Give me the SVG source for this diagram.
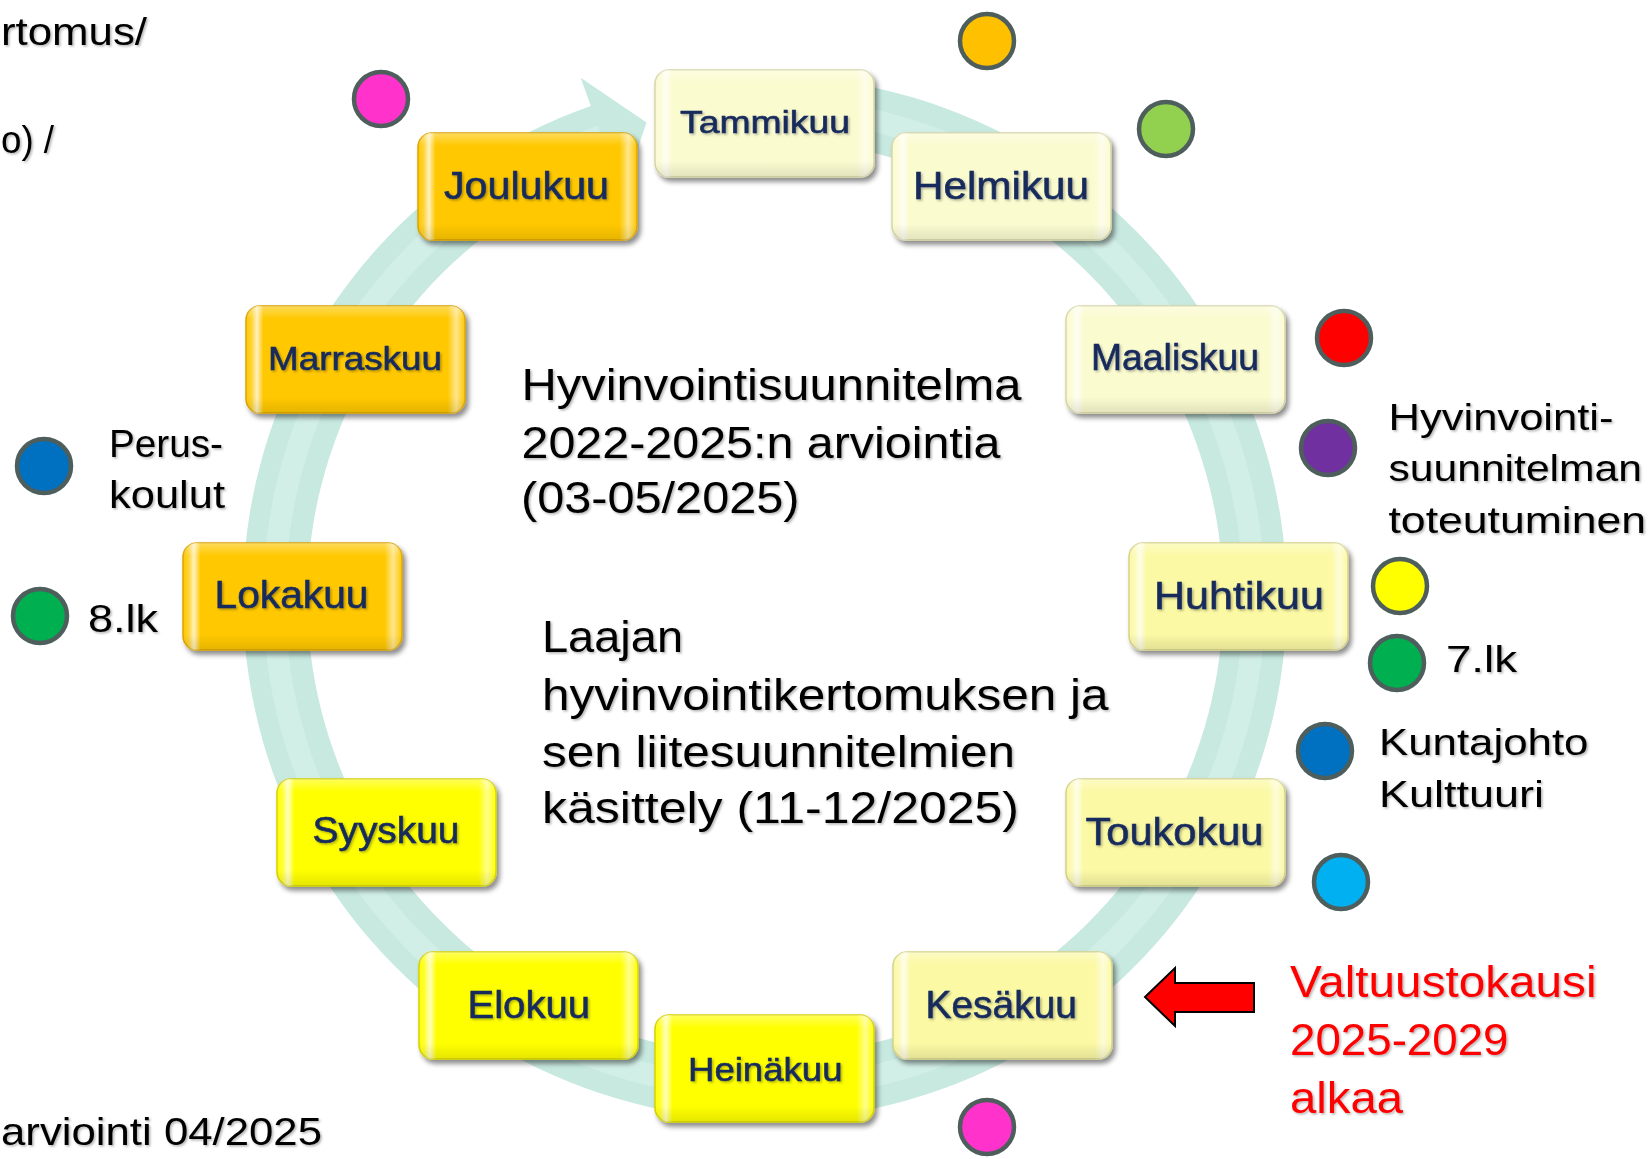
<svg xmlns="http://www.w3.org/2000/svg" width="1652" height="1159" viewBox="0 0 1652 1159">
<defs>
  <filter id="boxShadow" x="-10%" y="-10%" width="130%" height="140%">
    <feDropShadow dx="3" dy="4" stdDeviation="2.5" flood-color="#000" flood-opacity="0.45"/>
  </filter>
  <filter id="txtShadow" x="-5%" y="-25%" width="110%" height="160%">
    <feDropShadow dx="1.5" dy="1.5" stdDeviation="1" flood-color="#000" flood-opacity="0.3"/>
  </filter>
  <linearGradient id="bevelH" x1="0" y1="0" x2="1" y2="0">
    <stop offset="0" stop-color="#fff" stop-opacity="0"/>
    <stop offset="0.025" stop-color="#fff" stop-opacity="0.2"/>
    <stop offset="0.05" stop-color="#fff" stop-opacity="0.75"/>
    <stop offset="0.08" stop-color="#fff" stop-opacity="0"/>
    <stop offset="0.92" stop-color="#fff" stop-opacity="0"/>
    <stop offset="0.96" stop-color="#fff" stop-opacity="0.55"/>
    <stop offset="1" stop-color="#fff" stop-opacity="0"/>
  </linearGradient>
  <linearGradient id="bevelV" x1="0" y1="0" x2="0" y2="1">
    <stop offset="0" stop-color="#fff" stop-opacity="0.35"/>
    <stop offset="0.12" stop-color="#fff" stop-opacity="0"/>
    <stop offset="0.85" stop-color="#000" stop-opacity="0"/>
    <stop offset="1" stop-color="#000" stop-opacity="0.1"/>
  </linearGradient>
  <style>
    .lbl { font-family: "Liberation Sans", Arial, sans-serif; fill: #172b5c; stroke: #172b5c; stroke-width: 0.6; filter: url(#txtShadow); }
    .txt { font-family: "Liberation Sans", Arial, sans-serif; fill: #000; filter: url(#txtShadow); }
    .red { font-family: "Liberation Sans", Arial, sans-serif; fill: #ff0000; filter: url(#txtShadow); }
    .dot { stroke: #4d5e5d; stroke-width: 4.5; }
    .pale { fill: #fbfbd0; stroke: #d8d6a6; stroke-width: 1.5; }
    .lemon { fill: #fbf9a4; stroke: #d6d28a; stroke-width: 1.5; }
    .yel { fill: #ffff00; stroke: #d6d200; stroke-width: 1.5; }
    .gold { fill: #ffc800; stroke: #dca400; stroke-width: 1.5; }
  </style>
</defs>
<rect width="1652" height="1159" fill="#fff"/>

<g id="connectors">
  <path id="cycle-arrow" d="M 719.5 78 A 522 522 0 1 1 590.8 105.9 L 580.7 77.7 L 646.5 122.6 L 622.1 194.6 L 612.1 166.3 A 458 458 0 1 0 725.1 141.7 Z" fill="#c7e9df"/>
  <path d="M 722.3 110 A 490 490 0 1 1 601.5 136" fill="none" stroke="#d2efe7" stroke-width="22"/>
  <polygon id="red-arrow" points="1145,997 1175,968 1175,983 1254,983 1254,1012 1175,1012 1175,1026" fill="#ff0000" stroke="#000" stroke-width="2"/>
</g>

<g id="tammikuu">
  <rect class="pale" x="655" y="70" width="219" height="107" rx="14" filter="url(#boxShadow)"/>
  <rect x="655" y="70" width="219" height="107" rx="14" fill="url(#bevelH)"/>
  <rect x="655" y="70" width="219" height="107" rx="14" fill="url(#bevelV)"/>
  <text class="lbl" x="680" y="133" font-size="32" textLength="170" lengthAdjust="spacingAndGlyphs">Tammikuu</text>
</g>
<g id="helmikuu">
  <rect class="pale" x="892" y="133" width="219" height="107" rx="14" filter="url(#boxShadow)"/>
  <rect x="892" y="133" width="219" height="107" rx="14" fill="url(#bevelH)"/>
  <rect x="892" y="133" width="219" height="107" rx="14" fill="url(#bevelV)"/>
  <text class="lbl" x="913" y="199" font-size="39" textLength="176" lengthAdjust="spacingAndGlyphs">Helmikuu</text>
</g>
<g id="maaliskuu">
  <rect class="pale" x="1066" y="306" width="219" height="107" rx="14" filter="url(#boxShadow)"/>
  <rect x="1066" y="306" width="219" height="107" rx="14" fill="url(#bevelH)"/>
  <rect x="1066" y="306" width="219" height="107" rx="14" fill="url(#bevelV)"/>
  <text class="lbl" x="1091" y="370" font-size="36" textLength="168" lengthAdjust="spacingAndGlyphs">Maaliskuu</text>
</g>
<g id="huhtikuu">
  <rect class="lemon" x="1129" y="543" width="219" height="107" rx="14" filter="url(#boxShadow)"/>
  <rect x="1129" y="543" width="219" height="107" rx="14" fill="url(#bevelH)"/>
  <rect x="1129" y="543" width="219" height="107" rx="14" fill="url(#bevelV)"/>
  <text class="lbl" x="1154" y="609" font-size="39" textLength="170" lengthAdjust="spacingAndGlyphs">Huhtikuu</text>
</g>
<g id="toukokuu">
  <rect class="lemon" x="1066" y="779" width="219" height="107" rx="14" filter="url(#boxShadow)"/>
  <rect x="1066" y="779" width="219" height="107" rx="14" fill="url(#bevelH)"/>
  <rect x="1066" y="779" width="219" height="107" rx="14" fill="url(#bevelV)"/>
  <text class="lbl" x="1085.5" y="845" font-size="39" textLength="178" lengthAdjust="spacingAndGlyphs">Toukokuu</text>
</g>
<g id="kesakuu">
  <rect class="lemon" x="893" y="952" width="219" height="107" rx="14" filter="url(#boxShadow)"/>
  <rect x="893" y="952" width="219" height="107" rx="14" fill="url(#bevelH)"/>
  <rect x="893" y="952" width="219" height="107" rx="14" fill="url(#bevelV)"/>
  <text class="lbl" x="925.5" y="1018" font-size="39" textLength="151.5" lengthAdjust="spacingAndGlyphs">Kesäkuu</text>
</g>
<g id="heinakuu">
  <rect class="yel" x="655" y="1015" width="219" height="107" rx="14" filter="url(#boxShadow)"/>
  <rect x="655" y="1015" width="219" height="107" rx="14" fill="url(#bevelH)"/>
  <rect x="655" y="1015" width="219" height="107" rx="14" fill="url(#bevelV)"/>
  <text class="lbl" x="688" y="1080.5" font-size="33" textLength="154.5" lengthAdjust="spacingAndGlyphs">Heinäkuu</text>
</g>
<g id="elokuu">
  <rect class="yel" x="419" y="952" width="219" height="107" rx="14" filter="url(#boxShadow)"/>
  <rect x="419" y="952" width="219" height="107" rx="14" fill="url(#bevelH)"/>
  <rect x="419" y="952" width="219" height="107" rx="14" fill="url(#bevelV)"/>
  <text class="lbl" x="467.5" y="1018" font-size="39" textLength="122.5" lengthAdjust="spacingAndGlyphs">Elokuu</text>
</g>
<g id="syyskuu">
  <rect class="yel" x="277" y="779" width="219" height="107" rx="14" filter="url(#boxShadow)"/>
  <rect x="277" y="779" width="219" height="107" rx="14" fill="url(#bevelH)"/>
  <rect x="277" y="779" width="219" height="107" rx="14" fill="url(#bevelV)"/>
  <text class="lbl" x="312.5" y="843" font-size="37" textLength="147" lengthAdjust="spacingAndGlyphs">Syyskuu</text>
</g>
<g id="lokakuu">
  <rect class="gold" x="183" y="543" width="219" height="107" rx="14" filter="url(#boxShadow)"/>
  <rect x="183" y="543" width="219" height="107" rx="14" fill="url(#bevelH)"/>
  <rect x="183" y="543" width="219" height="107" rx="14" fill="url(#bevelV)"/>
  <text class="lbl" x="214.5" y="608" font-size="39" textLength="154" lengthAdjust="spacingAndGlyphs">Lokakuu</text>
</g>
<g id="marraskuu">
  <rect class="gold" x="246" y="306" width="219" height="107" rx="14" filter="url(#boxShadow)"/>
  <rect x="246" y="306" width="219" height="107" rx="14" fill="url(#bevelH)"/>
  <rect x="246" y="306" width="219" height="107" rx="14" fill="url(#bevelV)"/>
  <text class="lbl" x="268" y="370" font-size="33" textLength="174" lengthAdjust="spacingAndGlyphs">Marraskuu</text>
</g>
<g id="joulukuu">
  <rect class="gold" x="418" y="133" width="219" height="107" rx="14" filter="url(#boxShadow)"/>
  <rect x="418" y="133" width="219" height="107" rx="14" fill="url(#bevelH)"/>
  <rect x="418" y="133" width="219" height="107" rx="14" fill="url(#bevelV)"/>
  <text class="lbl" x="444" y="199" font-size="39" textLength="165" lengthAdjust="spacingAndGlyphs">Joulukuu</text>
</g>

<g id="dots">
  <circle class="dot" cx="381" cy="99" r="27" fill="#ff33cc"/>
  <circle class="dot" cx="987" cy="41" r="27" fill="#ffc000"/>
  <circle class="dot" cx="1166" cy="129" r="27" fill="#92d050"/>
  <circle class="dot" cx="1344" cy="338" r="27" fill="#ff0000"/>
  <circle class="dot" cx="1328" cy="448" r="27" fill="#7030a0"/>
  <circle class="dot" cx="1400" cy="586" r="27" fill="#ffff00"/>
  <circle class="dot" cx="1397" cy="663" r="27" fill="#00b050"/>
  <circle class="dot" cx="1325" cy="751" r="27" fill="#0070c0"/>
  <circle class="dot" cx="1341" cy="882" r="27" fill="#00b0f0"/>
  <circle class="dot" cx="987" cy="1127" r="27" fill="#ff33cc"/>
  <circle class="dot" cx="44" cy="466" r="27" fill="#0070c0"/>
  <circle class="dot" cx="40" cy="616" r="27" fill="#00b050"/>
</g>

<g id="texts">
  <text class="txt" x="1" y="45" font-size="39" textLength="146" lengthAdjust="spacingAndGlyphs">rtomus/</text>
  <text class="txt" x="1" y="153" font-size="39" textLength="53" lengthAdjust="spacingAndGlyphs">o) /</text>
  <text class="txt" x="1" y="1145" font-size="39" textLength="321" lengthAdjust="spacingAndGlyphs">arviointi 04/2025</text>

  <text class="txt" x="521.5" y="400" font-size="44" textLength="500" lengthAdjust="spacingAndGlyphs">Hyvinvointisuunnitelma</text>
  <text class="txt" x="521.5" y="458" font-size="44" textLength="479" lengthAdjust="spacingAndGlyphs">2022-2025:n arviointia</text>
  <text class="txt" x="521" y="513" font-size="44" textLength="278.5" lengthAdjust="spacingAndGlyphs">(03-05/2025)</text>

  <text class="txt" x="542" y="652" font-size="44" textLength="141" lengthAdjust="spacingAndGlyphs">Laajan</text>
  <text class="txt" x="542" y="710" font-size="44" textLength="566.6" lengthAdjust="spacingAndGlyphs">hyvinvointikertomuksen ja</text>
  <text class="txt" x="542" y="767" font-size="44" textLength="473" lengthAdjust="spacingAndGlyphs">sen liitesuunnitelmien</text>
  <text class="txt" x="542" y="823" font-size="44" textLength="477" lengthAdjust="spacingAndGlyphs">käsittely (11-12/2025)</text>

  <text class="txt" x="1388.5" y="429.5" font-size="37" textLength="225" lengthAdjust="spacingAndGlyphs">Hyvinvointi-</text>
  <text class="txt" x="1388.5" y="481" font-size="37" textLength="253.5" lengthAdjust="spacingAndGlyphs">suunnitelman</text>
  <text class="txt" x="1388.5" y="533" font-size="37" textLength="257.5" lengthAdjust="spacingAndGlyphs">toteutuminen</text>
  <text class="txt" x="1446" y="671.5" font-size="36" textLength="71" lengthAdjust="spacingAndGlyphs">7.lk</text>
  <text class="txt" x="1379" y="755" font-size="36" textLength="209.5" lengthAdjust="spacingAndGlyphs">Kuntajohto</text>
  <text class="txt" x="1379" y="807" font-size="36" textLength="165" lengthAdjust="spacingAndGlyphs">Kulttuuri</text>

  <text class="txt" x="109" y="457" font-size="38" textLength="114" lengthAdjust="spacingAndGlyphs">Perus-</text>
  <text class="txt" x="109" y="508" font-size="38" textLength="116" lengthAdjust="spacingAndGlyphs">koulut</text>
  <text class="txt" x="88" y="631.5" font-size="38" textLength="70" lengthAdjust="spacingAndGlyphs">8.lk</text>

  <text class="red" x="1290" y="997" font-size="44" textLength="306.5" lengthAdjust="spacingAndGlyphs">Valtuustokausi</text>
  <text class="red" x="1290" y="1055" font-size="44" textLength="218.5" lengthAdjust="spacingAndGlyphs">2025-2029</text>
  <text class="red" x="1290" y="1113" font-size="44" textLength="113" lengthAdjust="spacingAndGlyphs">alkaa</text>
</g>
</svg>
